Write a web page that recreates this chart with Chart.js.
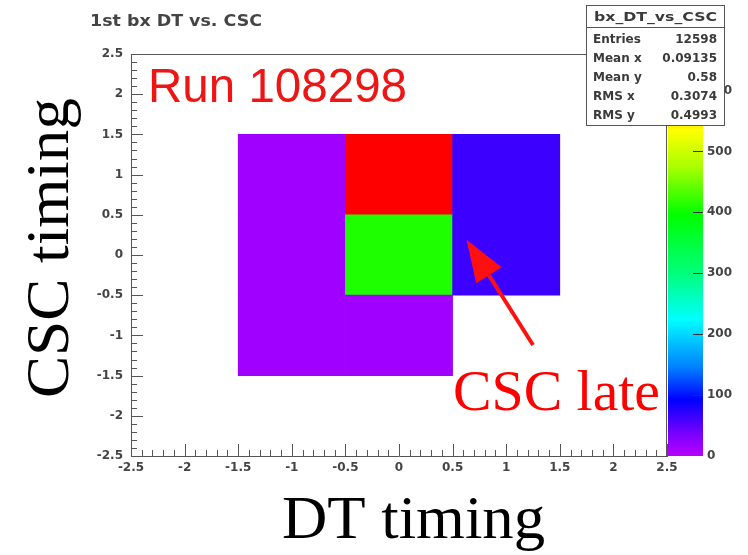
<!DOCTYPE html>
<html>
<head>
<meta charset="utf-8">
<script src="https://cdn.jsdelivr.net/npm/chart.js@4.4.1/dist/chart.umd.min.js"></script>
<style>
  html, body { margin: 0; padding: 0; background: #fff; }
  #wrap { width: 748px; height: 555px; }
</style>
</head>
<body>
<div id="wrap"><canvas id="chartDtCsc" width="748" height="555"></canvas></div>
<script>
// --- histogram bins (bin centres) ---
const dtBins = ["-2", "-1", "0", "1", "2"];
const cscBins = [-1, 0, 1];
// entries per bin, one row per cscBins value
const counts = [
  [0, 14, 14, 0, 0],
  [0, 14, 410, 65, 0],
  [0, 14, 660, 65, 0],
];
const zMax = 660;

const statLabels = ["Entries", "Mean x", "Mean y", "RMS x", "RMS y"];
const statValues = ["12598", "0.09135", "0.58", "0.3074", "0.4993"];

// arrow in data units: tail -> tip
const arrowTail = [1.25, -1.12];
const arrowTip = [0.63, 0.19];

// ROOT-like rainbow palette
const paletteStops = [
  [0.00, [184, 0, 255]],
  [0.05, [128, 0, 255]],
  [0.14, [0, 0, 255]],
  [0.22, [0, 128, 255]],
  [0.34, [0, 255, 255]],
  [0.45, [0, 255, 128]],
  [0.60, [0, 255, 0]],
  [0.72, [170, 255, 0]],
  [0.81, [255, 255, 0]],
  [0.90, [255, 128, 0]],
  [1.00, [255, 0, 0]],
];

function zColor(v) {
  const f = Math.max(0, Math.min(1, v / zMax));
  for (let i = 1; i < paletteStops.length; i++) {
    const [f1, c1] = paletteStops[i];
    const [f0, c0] = paletteStops[i - 1];
    if (f <= f1) {
      const t = (f - f0) / (f1 - f0);
      const c = c0.map((a, k) => Math.round(a + (c1[k] - a) * t));
      return `rgb(${c[0]},${c[1]},${c[2]})`;
    }
  }
  return "rgb(255,0,0)";
}

function fitText(ctx, text, x, y, w) {
  const m = ctx.measureText(text).width;
  ctx.save();
  ctx.translate(x, y);
  ctx.scale(w / m, 1);
  ctx.fillText(text, 0, 0);
  ctx.restore();
}

const tickFont = { family: "DejaVu Sans", size: 12, weight: "bold" };
const tickColor = "#444";
const fmt = v => String(Math.round(v * 10) / 10);

const decor = {
  id: "decor",
  beforeDatasetsDraw(chart) {
    const { ctx, chartArea, scales } = chart;
    const z = scales.z;
    // colour bar
    const g = ctx.createLinearGradient(0, z.getPixelForValue(0), 0, z.getPixelForValue(zMax));
    paletteStops.forEach(([f, c]) => g.addColorStop(f, `rgb(${c[0]},${c[1]},${c[2]})`));
    ctx.save();
    ctx.fillStyle = g;
    ctx.fillRect(chartArea.right + 1, chartArea.top, 35, chartArea.bottom - chartArea.top);
    ctx.strokeStyle = "#333";
    ctx.lineWidth = 1;
    for (let v = 100; v <= zMax; v += 100) {
      const py = Math.round(z.getPixelForValue(v)) + 0.5;
      ctx.beginPath();
      ctx.moveTo(chartArea.right + 36, py);
      ctx.lineTo(chartArea.right + 26, py);
      ctx.stroke();
    }
    ctx.restore();
  },
  afterDatasetsDraw(chart) {
    const { ctx, chartArea, scales } = chart;
    const xs = scales.xd, ys = scales.y;
    ctx.save();
    ctx.strokeStyle = "#555";
    ctx.lineWidth = 1;
    // frame top / right
    ctx.beginPath();
    ctx.moveTo(chartArea.left, chartArea.top + 0.5);
    ctx.lineTo(chartArea.right, chartArea.top + 0.5);
    ctx.moveTo(chartArea.right - 0.5, chartArea.top);
    ctx.lineTo(chartArea.right - 0.5, chartArea.bottom);
    ctx.stroke();
    // inward major/minor ticks
    for (let i = 0; i <= 50; i++) {
      const v = -2.5 + i * 0.1;
      const len = i % 5 === 0 ? 12 : 6;
      const px = Math.round(xs.getPixelForValue(v)) + 0.5;
      const py = Math.round(ys.getPixelForValue(v)) + 0.5;
      ctx.beginPath();
      ctx.moveTo(px, chartArea.bottom);
      ctx.lineTo(px, chartArea.bottom - len);
      ctx.moveTo(chartArea.left, py);
      ctx.lineTo(chartArea.left + len, py);
      ctx.stroke();
    }
    ctx.restore();
  },
  afterDraw(chart) {
    const { ctx, scales } = chart;
    const xs = scales.xd, ys = scales.y;
    ctx.save();
    ctx.textBaseline = "alphabetic";
    ctx.textAlign = "left";

    // title
    ctx.fillStyle = "#444";
    ctx.font = "bold 16px 'DejaVu Sans'";
    fitText(ctx, "1st bx DT vs. CSC", 90, 26, 172);

    // run label
    ctx.fillStyle = "#ee1515";
    ctx.font = "48px 'Liberation Sans'";
    fitText(ctx, "Run 108298", 148, 102, 259);

    // arrow
    const tx = xs.getPixelForValue(arrowTail[0]), ty = ys.getPixelForValue(arrowTail[1]);
    const hx = xs.getPixelForValue(arrowTip[0]), hy = ys.getPixelForValue(arrowTip[1]);
    const ang = Math.atan2(hy - ty, hx - tx);
    const headLen = 42, headW = 15;
    const bx = hx - headLen * Math.cos(ang), by = hy - headLen * Math.sin(ang);
    ctx.strokeStyle = "#ff1010";
    ctx.fillStyle = "#ff1010";
    ctx.lineWidth = 4;
    ctx.beginPath();
    ctx.moveTo(tx, ty);
    ctx.lineTo(bx, by);
    ctx.stroke();
    ctx.beginPath();
    ctx.moveTo(hx, hy);
    ctx.lineTo(bx + headW * Math.sin(ang), by - headW * Math.cos(ang));
    ctx.lineTo(bx - headW * Math.sin(ang), by + headW * Math.cos(ang));
    ctx.closePath();
    ctx.fill();

    // annotation text
    ctx.fillStyle = "#ff0000";
    ctx.font = "58px 'Liberation Serif'";
    fitText(ctx, "CSC late", 453, 410, 207);

    // axis titles
    ctx.fillStyle = "#000";
    ctx.font = "62px 'Liberation Serif'";
    fitText(ctx, "DT timing", 282, 538, 263);
    ctx.save();
    ctx.translate(68, 398);
    ctx.rotate(-Math.PI / 2);
    fitText(ctx, "CSC timing", 0, 0, 300);
    ctx.restore();

    // stats box
    ctx.fillStyle = "#fff";
    ctx.fillRect(586, 5, 138, 120);
    ctx.strokeStyle = "#555";
    ctx.lineWidth = 1;
    ctx.strokeRect(586.5, 5.5, 138, 120);
    ctx.beginPath();
    ctx.moveTo(586, 27.5);
    ctx.lineTo(724, 27.5);
    ctx.stroke();
    ctx.fillStyle = "#3a3a3a";
    ctx.font = "bold 12px 'DejaVu Sans'";
    fitText(ctx, "bx_DT_vs_CSC", 594, 21, 123);
    statLabels.forEach((lab, i) => {
      const y = 43 + i * 19;
      ctx.textAlign = "left";
      ctx.fillText(lab, 593, y);
      ctx.textAlign = "right";
      ctx.fillText(statValues[i], 717, y);
    });
    ctx.restore();
  },
};

const datasets = cscBins.map((yc, r) => ({
  label: "CSC " + yc,
  data: counts[r].map(v => (v > 0 ? [yc - 0.5, yc + 0.5] : null)),
  backgroundColor: counts[r].map(v => zColor(v)),
  borderWidth: 0,
  barPercentage: 1,
  categoryPercentage: 1,
  grouped: false,
  xAxisID: "x",
  yAxisID: "y",
}));

new Chart(document.getElementById("chartDtCsc").getContext("2d"), {
  type: "bar",
  data: { labels: dtBins, datasets },
  options: {
    responsive: false,
    animation: false,
    devicePixelRatio: 1,
    layout: { padding: { top: 54, left: 0, right: 0, bottom: 0 } },
    plugins: { legend: { display: false }, tooltip: { enabled: false } },
    scales: {
      x: { type: "category", offset: true, display: false },
      xd: {
        type: "linear",
        position: "bottom",
        offset: false,
        min: -2.5,
        max: 2.5,
        grid: { display: false, drawTicks: false, offset: false },
        border: { color: "#555" },
        ticks: { stepSize: 0.5, padding: 5, color: tickColor, font: tickFont, maxRotation: 0, autoSkip: false, callback: fmt },
        afterFit(s) { s.height = 99; },
      },
      y: {
        type: "linear",
        min: -2.5,
        max: 2.5,
        grid: { display: false, drawTicks: false },
        border: { color: "#555" },
        ticks: { stepSize: 0.5, padding: 8, color: tickColor, font: tickFont, autoSkip: false, callback: fmt },
        afterFit(s) { s.width = 131; },
      },
      z: {
        type: "linear",
        position: "right",
        min: 0,
        max: zMax,
        grid: { display: false, drawTicks: false },
        border: { display: false },
        ticks: {
          stepSize: 100,
          padding: 40,
          color: tickColor,
          font: tickFont,
          callback: v => (v % 100 === 0 ? v : ""),
        },
        afterFit(s) { s.width = 81; },
      },
    },
  },
  plugins: [decor],
});
</script>
</body>
</html>
